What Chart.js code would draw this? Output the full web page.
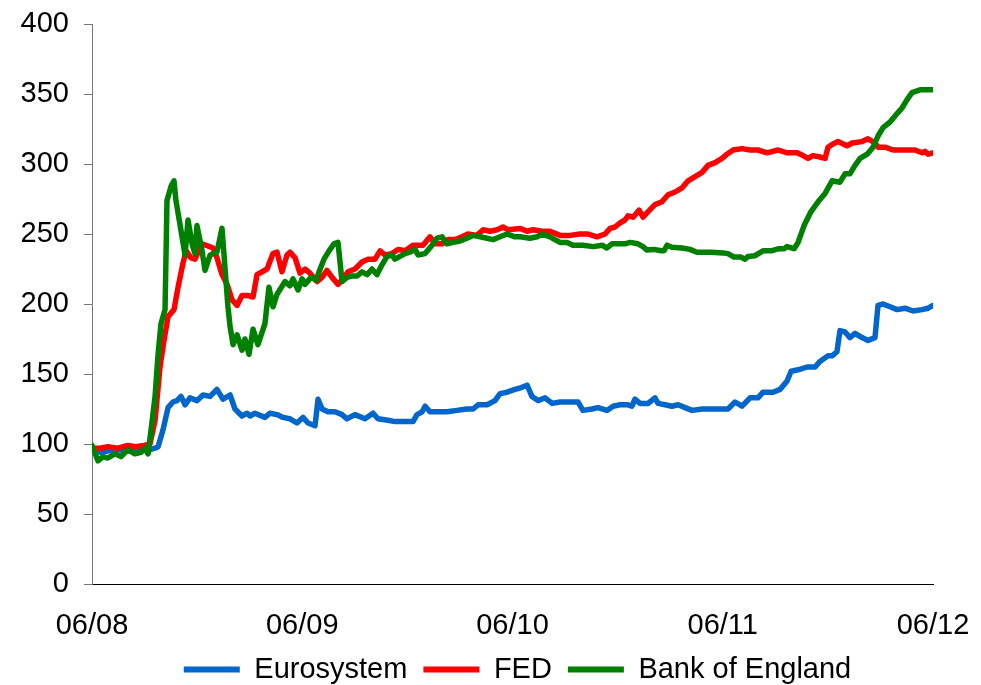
<!DOCTYPE html>
<html>
<head>
<meta charset="utf-8">
<script src="https://cdn.jsdelivr.net/npm/chart.js@4.4.1/dist/chart.umd.min.js"></script>
<style>
  html, body { margin: 0; padding: 0; background: #fff; }
  #chart { display: block; }
</style>
</head>
<body>
<canvas id="chart" width="981" height="685"></canvas>
<script>
// index levels, 06/2008 = 100; x is months since June 2008
const xTickLabels = ['06/08', '06/09', '06/10', '06/11', '06/12'];

const euroMonths = [0,0.46,0.91,1.48,2.05,2.74,3.31,3.6,3.77,4.05,4.34,4.62,4.85,5.08,5.31,5.59,5.99,6.34,6.74,7.13,
  7.48,7.88,8.16,8.56,8.85,9.02,9.3,9.87,10.16,10.56,10.9,11.3,11.7,12.04,12.33,12.73,12.9,13.13,13.47,13.87,
  14.27,14.55,15.01,15.58,16.04,16.32,16.89,17.29,17.87,18.32,18.55,18.84,19.01,19.29,19.69,20.26,20.83,21.4,21.75,22.03,
  22.55,23.0,23.29,23.69,24.14,24.43,24.83,25.11,25.46,25.86,26.26,26.71,27.28,27.74,28.02,28.54,28.88,29.39,29.74,30.14,
  30.59,30.82,30.99,31.28,31.74,32.13,32.31,32.71,33.1,33.45,33.85,34.25,34.82,35.39,36.3,36.7,37.1,37.56,38.01,38.3,
  38.87,39.27,39.67,39.9,40.3,40.81,41.27,41.55,42.01,42.24,42.52,42.69,42.98,43.26,43.55,43.95,44.29,44.69,44.86,45.15,
  45.55,45.95,46.4,46.86,47.37,47.72,48];
const euroValues = [96,94,95,96,95,96,96,97,98,110,126,130,131,134,128,133,131,135,134,139,
  132,135,125,120,122,120,122,119,122,121,119,118,115,119,115,113,132,125,123,123,
  121,118,121,118,122,118,117,116,116,116,121,123,127,123,123,123,124,125,125,128,
  128,131,136,137,139,140,142,134,131,133,129,130,130,130,124,125,126,124,127,128,
  128,127,132,129,129,133,129,128,127,128,126,124,125,125,125,130,127,133,133,137,
  137,139,145,152,153,155,155,159,163,163,166,181,180,176,179,176,174,176,199,200,
  198,196,197,195,196,197,199];

const fedMonths = [0,0.46,0.91,1.48,2.05,2.5,2.97,3.31,3.6,3.88,4.11,4.34,4.68,4.91,5.19,5.37,5.65,5.88,6.28,6.91,
  7.13,7.42,7.71,7.99,8.28,8.56,8.9,9.19,9.42,9.99,10.33,10.56,10.84,11.13,11.3,11.59,11.87,12.16,12.44,12.84,
  13.13,13.41,13.7,14.04,14.33,14.61,15.01,15.41,15.75,16.15,16.44,16.72,17.12,17.47,17.87,18.32,18.89,19.29,19.58,19.98,
  20.32,20.72,21.12,21.46,21.97,22.32,22.72,23.12,23.46,23.74,24.43,24.83,25.17,25.68,26.14,26.71,27.28,27.85,28.31,28.82,
  29.28,29.57,29.85,30.14,30.42,30.59,30.88,31.22,31.45,31.74,32.13,32.53,32.88,33.28,33.68,34.02,34.42,34.82,35.16,35.56,
  35.96,36.24,36.59,37.1,37.56,38.01,38.53,39.16,39.67,40.24,40.58,40.87,41.15,41.55,41.84,42.01,42.24,42.58,43.09,43.38,
  43.95,44.29,44.69,44.86,45.26,45.72,46.12,46.58,46.97,47.37,47.55,47.72,48];
const fedValues = [97,97,98,97,99,98,99,100,117,155,174,191,196,212,229,238,233,232,243,240,
  233,221,214,203,199,206,206,205,221,225,236,237,223,235,237,233,222,225,222,216,
  219,224,219,214,218,223,225,230,232,232,238,235,236,239,238,242,242,248,243,243,
  246,246,248,250,249,253,252,253,255,253,254,252,253,252,252,249,249,250,250,248,
  250,254,255,258,260,263,262,267,262,266,271,273,278,280,283,288,291,294,299,301,
  304,307,310,311,310,310,308,310,308,308,306,304,306,305,304,312,314,316,313,315,
  316,318,315,312,312,310,310,310,310,308,309,307,308];

const boeMonths = [0,0.34,0.63,0.91,1.31,1.66,2.05,2.45,2.8,3.02,3.2,3.37,3.6,3.77,3.94,4.17,4.28,4.51,4.68,4.79,
  5.02,5.31,5.48,5.71,5.88,5.99,6.28,6.45,6.74,7.13,7.42,7.59,7.76,7.88,8.05,8.28,8.56,8.73,8.96,9.19,
  9.47,9.87,10.1,10.33,10.56,11.02,11.3,11.47,11.76,11.99,12.16,12.5,12.79,12.96,13.24,13.53,13.81,14.04,14.27,14.55,
  14.84,15.13,15.41,15.7,15.98,16.27,16.55,16.84,17.12,17.29,17.58,17.87,18.15,18.44,18.61,19.01,19.41,19.69,19.98,20.26,
  20.61,21.0,21.4,21.75,22.15,22.55,22.89,23.29,23.69,24.14,24.43,25.0,25.4,25.68,26.14,26.71,27.11,27.45,28.02,28.6,
  29.11,29.39,29.68,30.02,30.42,30.71,31.16,31.45,31.68,32.08,32.48,32.65,32.82,33.1,33.68,34.13,34.53,35.33,36.02,36.3,
  36.64,37.04,37.27,37.44,37.84,38.3,38.76,39.21,39.5,39.67,40.07,40.3,40.64,41.04,41.44,41.84,42.24,42.69,42.98,43.26,
  43.55,43.84,44.24,44.58,44.86,45.15,45.55,45.95,46.23,46.52,46.8,47.26,47.66,48];
const boeValues = [99,88,91,90,93,91,96,93,94,97,93,110,134,164,186,196,274,284,288,274,
  257,235,260,243,236,256,238,224,235,237,254,226,198,184,171,178,167,175,164,182,
  171,186,212,198,207,216,213,218,210,218,214,219,217,223,232,238,243,244,216,219,
  220,220,223,221,225,221,228,234,235,232,234,236,237,239,235,236,242,247,248,243,
  244,245,247,249,248,247,246,248,250,248,248,247,248,250,248,244,244,242,242,241,
  242,240,243,243,243,244,243,241,238.5,239,238,238,242,240.5,240,239,237,237,236.5,236,
  233.5,233.5,232,234,234.5,238,238,239.5,239.5,241,239.5,244,256,266,273,279,288,287,293,293,
  299,304,307,312,320,326,330,336,340,346,351,353,353,353];

const toPoints = (xs, ys) => xs.map((x, i) => ({ x, y: ys[i] }));

Chart.defaults.font.family = '"Liberation Sans", Arial, sans-serif';
Chart.defaults.font.size = 29;
Chart.defaults.color = '#000';

// legend sits under the plot area, a little right of the canvas centre
const legendShift = {
  id: 'legendShift',
  afterLayout(chart) {
    chart.legend.left += 51;
    chart.legend.right += 51;
  }
};

const ctx = document.getElementById('chart').getContext('2d');

new Chart(ctx, {
  type: 'line',
  data: {
    datasets: [
      { label: 'Eurosystem', data: toPoints(euroMonths, euroValues), borderColor: '#0066cc', backgroundColor: '#0066cc', order: 3 },
      { label: 'FED', data: toPoints(fedMonths, fedValues), borderColor: '#ff0000', backgroundColor: '#ff0000', order: 2 },
      { label: 'Bank of England', data: toPoints(boeMonths, boeValues), borderColor: '#008000', backgroundColor: '#008000', order: 1 }
    ]
  },
  plugins: [legendShift],
  options: {
    responsive: false,
    animation: false,
    devicePixelRatio: 1,
    layout: { padding: { top: 24, right: 48, left: 0, bottom: -9 } },
    elements: {
      point: { radius: 0 },
      line: { borderWidth: 5.5, tension: 0, borderJoinStyle: 'round', borderCapStyle: 'round' }
    },
    plugins: {
      legend: {
        position: 'bottom',
        labels: {
          boxWidth: 56,
          boxHeight: 6,
          padding: 16,
          generateLabels(chart) {
            const items = Chart.defaults.plugins.legend.labels.generateLabels(chart);
            items.forEach(it => { it.lineWidth = 0; it.fillStyle = it.strokeStyle; });
            return items.sort((a, b) => a.datasetIndex - b.datasetIndex);
          }
        }
      },
      tooltip: { enabled: false }
    },
    scales: {
      x: {
        type: 'linear',
        min: 0,
        max: 48,
        grid: { display: false, drawTicks: false },
        border: { display: true, color: '#000' },
        ticks: {
          stepSize: 12,
          autoSkip: false,
          maxRotation: 0,
          padding: 25,
          callback: v => xTickLabels[v / 12]
        },
        afterFit(scale) {
          scale.height = 55;
          scale.paddingLeft = 0;
          scale.paddingRight = 0;
        }
      },
      y: {
        min: 0,
        max: 400,
        grid: { drawOnChartArea: false, drawTicks: true, tickLength: 8, color: '#777' },
        border: { display: true, color: '#777' },
        ticks: { stepSize: 50, padding: 15 },
        afterFit(scale) {
          scale.width = 92;
          scale.paddingTop = 0;
          scale.paddingBottom = 0;
        }
      }
    }
  }
});
</script>
</body>
</html>
